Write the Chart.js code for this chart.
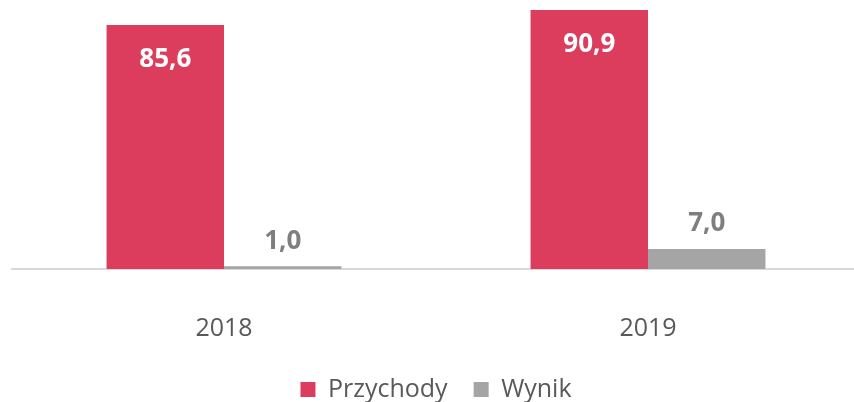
<!DOCTYPE html>
<html>
<head>
<meta charset="utf-8">
<script src="https://cdn.jsdelivr.net/npm/chart.js@4/dist/chart.umd.min.js"></script>
<style>
  html, body { margin: 0; padding: 0; background: #fff; overflow: hidden; }
  #wrap { width: 860px; height: 402px; }
</style>
</head>
<body>
<div id="wrap"><canvas id="chart"></canvas></div>
<script>
const years = ['2018', '2019'];
const przychody = [85.6, 90.9];
const wynik = [1.0, 7.0];

Chart.defaults.font.family = '"Open Sans", sans-serif';
Chart.defaults.color = '#595959';

// value labels: white inside the red bars, grey above the grey bars
const valueLabels = {
    id: 'valueLabels',
    afterDatasetsDraw(chart) {
        const ctx = chart.ctx;
        ctx.save();
        ctx.font = 'bold 26px "Open Sans", sans-serif';
        ctx.textAlign = 'center';
        ctx.textBaseline = 'middle';
        chart.data.datasets.forEach((ds, i) => {
            chart.getDatasetMeta(i).data.forEach((bar, j) => {
                const txt = ds.data[j].toFixed(1).replace('.', ',');
                if (i === 0) {
                    ctx.fillStyle = '#ffffff';
                    ctx.fillText(txt, bar.x, bar.y + 35);
                } else {
                    ctx.fillStyle = '#7f7f7f';
                    ctx.fillText(txt, bar.x, bar.y - 25);
                }
            });
        });
        ctx.restore();
    }
};

new Chart(document.getElementById('chart'), {
    type: 'bar',
    data: {
        labels: years,
        datasets: [
            { label: 'Przychody', data: przychody, backgroundColor: '#dc3d5c' },
            { label: 'Wynik', data: wynik, backgroundColor: '#a5a5a5' }
        ]
    },
    options: {
        responsive: true,
        maintainAspectRatio: false,
        animation: false,
        layout: { padding: { left: 12, right: 0, top: 0, bottom: -10 } },
        datasets: { bar: { categoryPercentage: 0.554, barPercentage: 1.0 } },
        plugins: {
            tooltip: { enabled: false },
            legend: {
                position: 'bottom',
                labels: { boxWidth: 15, boxHeight: 15, padding: 26, font: { size: 25 }, color: '#595959' }
            }
        },
        scales: {
            x: {
                grid: { display: false },
                border: { color: '#d9d9d9', width: 2 },
                ticks: { font: { size: 25 }, color: '#595959', padding: 37 },
                afterFit(scale) { scale.height = 82; }
            },
            y: { display: false, min: 0, max: 94.4 }
        }
    },
    plugins: [valueLabels]
});
</script>
</body>
</html>
